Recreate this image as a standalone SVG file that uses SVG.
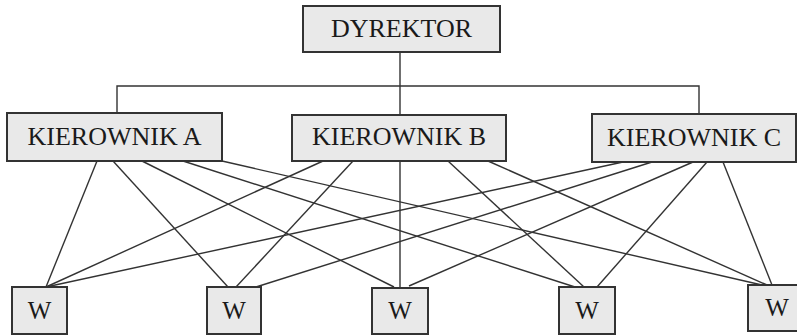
<svg xmlns="http://www.w3.org/2000/svg" width="797" height="335" viewBox="0 0 797 335">
  <style>
    .box { fill: #e9e9e9; stroke: #333; stroke-width: 2; }
    .lbl { font-family: "Liberation Serif", "Times New Roman", serif; font-size: 26px; fill: #1a1a1a; text-anchor: middle; }
    .w { font-size: 25px; }
    .ln { stroke: #333; stroke-width: 1.4; fill: none; }
  </style>
  <rect width="797" height="335" fill="#ffffff"/>

  <!-- connectors -->
  <g id="connectors" class="ln">
    <!-- hierarchy bus -->
    <line x1="400" y1="52" x2="400" y2="115"/>
    <polyline points="117,113 117,86 699,86 699,114"/>
    <!-- KIEROWNIK A to workers -->
    <line x1="97" y1="161" x2="46" y2="287"/>
    <line x1="113" y1="161" x2="228" y2="287"/>
    <line x1="142" y1="161" x2="394" y2="287"/>
    <line x1="183" y1="161" x2="575" y2="287"/>
    <line x1="222" y1="161" x2="762" y2="285"/>
    <!-- KIEROWNIK B to workers -->
    <line x1="323" y1="161" x2="46" y2="287"/>
    <line x1="353" y1="161" x2="236" y2="287"/>
    <line x1="400" y1="161" x2="400" y2="288"/>
    <line x1="448" y1="161" x2="584" y2="287"/>
    <line x1="488" y1="161" x2="767" y2="285"/>
    <!-- KIEROWNIK C to workers -->
    <line x1="623" y1="162" x2="46" y2="287"/>
    <line x1="652" y1="162" x2="256" y2="287"/>
    <line x1="693" y1="162" x2="409" y2="286"/>
    <line x1="707" y1="162" x2="597" y2="287"/>
    <line x1="723" y1="162" x2="772" y2="285"/>
  </g>

  <g id="dyrektor">
    <rect class="box" x="303" y="6" width="197" height="46"/>
    <text class="lbl" x="401.5" y="37">DYREKTOR</text>
  </g>

  <g id="kierownik-a">
    <rect class="box" x="7" y="113" width="215" height="48"/>
    <text class="lbl" x="114.5" y="145">KIEROWNIK A</text>
  </g>
  <g id="kierownik-b">
    <rect class="box" x="292" y="115" width="214" height="46"/>
    <text class="lbl" x="399" y="145">KIEROWNIK B</text>
  </g>
  <g id="kierownik-c">
    <rect class="box" x="592" y="114" width="204" height="48"/>
    <text class="lbl" x="694" y="146">KIEROWNIK C</text>
  </g>

  <g id="w1">
    <rect class="box" x="12" y="287" width="55" height="47"/>
    <text class="lbl w" x="39.5" y="319">W</text>
  </g>
  <g id="w2">
    <rect class="box" x="207" y="287" width="54" height="47"/>
    <text class="lbl w" x="234" y="319">W</text>
  </g>
  <g id="w3">
    <rect class="box" x="372" y="288" width="56" height="46"/>
    <text class="lbl w" x="400" y="319">W</text>
  </g>
  <g id="w4">
    <rect class="box" x="559" y="287" width="56" height="47"/>
    <text class="lbl w" x="587" y="319">W</text>
  </g>
  <g id="w5">
    <rect class="box" x="748" y="285" width="57" height="46"/>
    <text class="lbl w" x="777" y="316">W</text>
  </g>
</svg>
